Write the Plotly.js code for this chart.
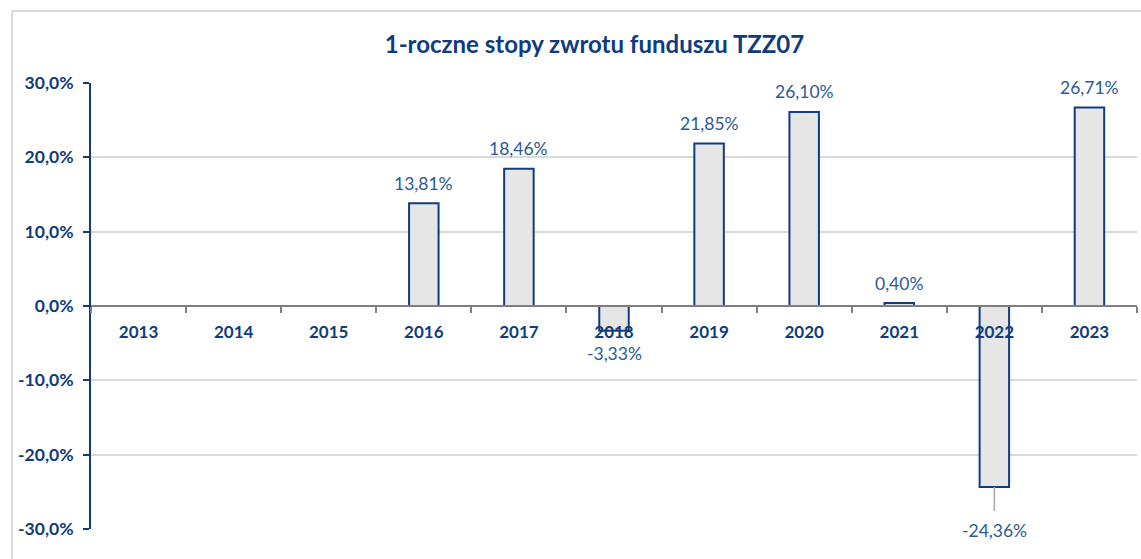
<!DOCTYPE html>
<html>
<head>
<meta charset="utf-8">
<script src="https://cdn.plot.ly/plotly-3.0.1.min.js"></script>
<style>html,body{margin:0;padding:0;background:#fff;}#chart{width:1141px;height:559px;}</style>
</head>
<body>
<div id="chart"></div>
<script>
const years = ['2013','2014','2015','2016','2017','2018','2019','2020','2021','2022','2023'];
const returns = [null, null, null, 13.81, 18.46, -3.33, 21.85, 26.10, 0.40, -24.36, 26.71];
const yTicks = [-30, -20, -10, 0, 10, 20, 30];
const yTickText = ['-30,0%', '-20,0%', '-10,0%', '0,0%', '10,0%', '20,0%', '30,0%'];
const chartTitle = '1-roczne stopy zwrotu funduszu TZZ07';

const dark = '#0f3c7d';
const labelBlue = '#2b5a96';
const fontFam = 'Lato, "Open Sans", sans-serif';

function fmt(v){ return v.toFixed(2).replace('.', ',') + '%'; }

const annotations = [];
years.forEach((y, i) => {
  const v = returns[i];
  if (v === null) return;
  const a = {x: i, y: v, xref: 'x', yref: 'y', text: fmt(v), showarrow: false,
    font: {family: fontFam, size: 17.5, color: labelBlue}, yanchor: 'middle'};
  if (v >= 0) { a.yshift = 20; }
  else if (v > -10) { a.yshift = -23; }
  else {
    a.showarrow = true; a.ax = 0; a.ay = 43; a.arrowhead = 0; a.arrowwidth = 1.5;
    a.arrowcolor = '#a6a6a6'; a.borderpad = 8; a.standoff = 0;
  }
  annotations.push(a);
});

const trace = {
  type: 'bar', x: years, y: returns,
  marker: {color: '#e6e6e6', line: {color: '#0f3c84', width: 2}},
  width: 0.31, hoverinfo: 'skip'
};

const layout = {
  width: 1141, height: 559,
  margin: {l: 91, r: 4, t: 83, b: 30},
  paper_bgcolor: '#fff', plot_bgcolor: '#fff',
  showlegend: false,
  title: {text: chartTitle, font: {family: fontFam, size: 24, color: dark, weight: 'bold'},
    xref: 'container', x: 0.521, xanchor: 'center', yref: 'container', y: 1 - 45/559, yanchor: 'middle'},
  xaxis: {type: 'category', categoryorder: 'array', categoryarray: years, range: [-0.5, 10.5],
    anchor: 'free', position: 0.5, showline: true, linecolor: '#7f7f7f', linewidth: 2,
    ticks: 'outside', tickson: 'boundaries', ticklen: 6, tickcolor: '#7f7f7f', tickwidth: 2,
    showgrid: false, zeroline: false, tickangle: 0, ticklabelstandoff: 11,
    tickfont: {family: fontFam, size: 17, color: dark, weight: 'bold'}, fixedrange: true},
  yaxis: {range: [-30, 30], tickmode: 'array', tickvals: yTicks, ticktext: yTickText,
    showline: true, linecolor: dark, linewidth: 2, ticks: 'outside', ticklen: 6, tickcolor: dark, tickwidth: 2,
    showgrid: true, gridcolor: '#d9d9d9', gridwidth: 2, zeroline: false, ticklabelstandoff: 6,
    tickfont: {family: fontFam, size: 17.5, color: dark, weight: 'bold'}, fixedrange: true},
  annotations: annotations,
  shapes: [
    {type: 'line', xref: 'paper', yref: 'paper', x0: (12-91)/1046, x1: (12-91)/1046, y0: (529-11)/446, y1: -0.1,
      line: {color: '#d9d9d9', width: 2}, layer: 'below'},
    {type: 'line', xref: 'paper', yref: 'paper', x0: (12-91)/1046, x1: 1.01, y0: (529-11)/446, y1: (529-11)/446,
      line: {color: '#d9d9d9', width: 2}, layer: 'below'}
  ]
};

Plotly.newPlot('chart', [trace], layout, {displayModeBar: false, staticPlot: true});
</script>
</body>
</html>
